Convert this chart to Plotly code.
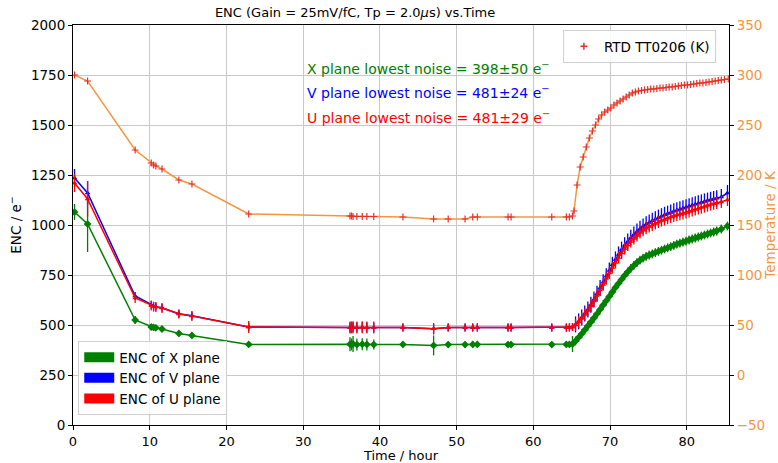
import plotly.graph_objects as go

# ENC measurement times (hours)
t_enc = [0.2, 1.9, 8.1, 10.2, 10.5, 10.8, 11.6, 13.8, 15.5, 22.9,
         36.1, 36.3, 36.5, 37.0, 37.7, 38.3, 39.2,
         43.0, 47.0, 48.9, 51.1, 52.1, 52.7, 56.7, 57.1, 62.4, 64.3, 64.7, 65.1,
         65.5, 65.9, 66.3, 66.7, 67.1, 67.5, 67.9, 68.3, 68.7, 69.1, 69.5, 69.9,
         70.3, 70.7, 71.1, 71.5, 71.9, 72.3, 72.7, 73.1, 73.5, 73.9, 74.3, 74.7,
         75.1, 75.5, 75.9, 76.3, 76.7, 77.1, 77.5, 77.9, 78.3, 78.7, 79.1, 79.5,
         79.9, 80.3, 80.7, 81.1, 81.5, 81.9, 82.3, 82.7, 83.1, 83.5, 83.9, 84.5, 85.3]

enc_x = [1065, 1005, 525, 490, 488, 486, 480, 458, 448, 403,
         404, 403, 405, 402, 404, 403, 402,
         403, 398, 402, 402, 403, 403, 402, 402, 402, 403, 403, 405,
         420, 438, 456, 475, 495, 515, 535, 556, 578, 600, 621, 643,
         665, 688, 708, 728, 748, 766, 783, 798, 812, 824, 834, 843,
         850, 856, 862, 868, 874, 880, 886, 892, 898, 904, 909, 914,
         919, 925, 930, 935, 940, 945, 950, 955, 960, 965, 970, 980, 995]
err_x = [40, 140, 20, 15, 15, 15, 15, 15, 15, 12,
         35, 30, 40, 30, 30, 30, 25,
         15, 50, 15, 15, 15, 15, 15, 15, 15, 15, 15, 40] + [22] * 49

enc_v = [1235, 1160, 645, 600, 594, 591, 586, 556, 546, 490,
         488, 488, 489, 488, 489, 488, 488,
         488, 481, 487, 487, 488, 488, 487, 487, 487, 488, 488, 490,
         503, 518, 537, 557, 578, 601, 627, 656, 685, 714, 744, 773,
         801, 828, 853, 877, 899, 918, 936, 952, 967, 981, 993, 1004,
         1013, 1021, 1029, 1037, 1044, 1051, 1057, 1063, 1069, 1074, 1079, 1084,
         1089, 1094, 1099, 1104, 1109, 1113, 1118, 1122, 1126, 1130, 1134, 1140, 1160]
err_v = [45, 60, 20, 20, 20, 20, 20, 20, 20, 20,
         25, 25, 25, 25, 25, 25, 25,
         20, 24, 20, 20, 20, 20, 20, 20, 20, 20, 20, 20] + [40] * 49

enc_u = [1210, 1130, 635, 598, 592, 590, 585, 555, 545, 490,
         488, 488, 489, 488, 489, 488, 488,
         488, 481, 487, 487, 488, 488, 487, 487, 487, 488, 488, 490,
         500, 515, 533, 552, 572, 595, 620, 648, 675, 703, 732, 760,
         787, 812, 837, 860, 882, 900, 918, 933, 948, 962, 974, 984,
         993, 1000, 1008, 1015, 1022, 1028, 1034, 1040, 1045, 1050, 1054, 1058,
         1062, 1067, 1072, 1077, 1082, 1087, 1092, 1097, 1102, 1106, 1110, 1115, 1125]
err_u = [45, 90, 25, 25, 25, 25, 25, 22, 25, 30,
         30, 30, 30, 30, 30, 30, 30,
         20, 29, 20, 20, 20, 20, 20, 20, 20, 20, 20, 20] + [30] * 49

# RTD temperature (K)
t_temp = [0.2, 1.9, 8.1, 10.2, 10.5, 10.8, 11.6, 13.8, 15.5, 22.9,
          36.1, 36.3, 36.5, 37.0, 37.7, 38.3, 39.2,
          43.0, 47.0, 48.9, 51.1, 52.1, 52.7, 56.7, 57.1, 62.4, 64.3, 64.7, 65.1,
          65.3, 65.7, 66.1, 66.5, 66.9, 67.3, 67.7, 68.1, 68.5, 68.9, 69.3, 69.7,
          70.1, 70.5, 70.9, 71.3, 71.7, 72.1, 72.5, 72.9, 73.3, 73.7, 74.1, 74.5,
          74.9, 75.3, 75.7, 76.1, 76.5, 76.9, 77.3, 77.7, 78.1, 78.5, 78.9, 79.3,
          79.7, 80.1, 80.5, 80.9, 81.3, 81.7, 82.1, 82.5, 82.9, 83.3, 83.7, 84.1,
          84.5, 84.9, 85.4]
temp_k = [300, 294, 225, 212, 210, 209, 206, 195, 191, 161,
          159, 159, 158.5, 158.5, 158.5, 158.5, 158.5,
          158, 156, 156, 156, 158, 158, 158, 158, 158, 158, 158, 159,
          164, 190, 208, 218, 228, 237, 244, 250, 256, 260, 263, 265,
          267, 270, 272, 274, 276, 278, 280, 282, 283, 284, 284.5, 285,
          285.5, 286, 286, 286.5, 287, 287, 287.5, 288, 288, 288.5, 289, 289.5,
          290, 290, 290.5, 291, 291.5, 292, 292, 292.5, 293, 293.5, 294, 294.5,
          295, 295.5, 296]

notes = ["X plane lowest noise = 398\u00b150 e<sup>\u2212</sup>",
         "V plane lowest noise = 481\u00b124 e<sup>\u2212</sup>",
         "U plane lowest noise = 481\u00b129 e<sup>\u2212</sup>"]
note_y = [1785, 1665, 1540]

GREEN, BLUE, RED, ORANGE = "#008000", "#0000ff", "#ff0000", "#f7953f"
RTD_RED = "#e8302a"
FONT = "DejaVu Sans"

fig = go.Figure()

series = [("X", enc_x, err_x, GREEN, "diamond", 6),
          ("V", enc_v, err_v, BLUE, "triangle-up", 5),
          ("U", enc_u, err_u, RED, "triangle-up", 5)]
for name, vals, errs, col, sym, sz in series:
    fig.add_trace(go.Scatter(
        x=t_enc, y=vals, mode="lines+markers", showlegend=False,
        line=dict(color=col, width=1.5),
        marker=dict(color=col, symbol=sym, size=sz),
        error_y=dict(type="data", array=errs, color=col, thickness=1.3, width=0)))

# legend patches for the ENC series
for name, vals, errs, col, sym, sz in series:
    fig.add_trace(go.Scatter(
        x=[None], y=[None], mode="lines", name=f"ENC of {name} plane",
        line=dict(color=col, width=12), legend="legend"))

fig.add_trace(go.Scatter(
    x=t_temp, y=temp_k, yaxis="y2", mode="lines+markers", showlegend=False,
    line=dict(color=ORANGE, width=1.5),
    marker=dict(symbol="cross-thin", size=5, line=dict(color=RTD_RED, width=1.2))))
fig.add_trace(go.Scatter(
    x=[None], y=[None], yaxis="y2", mode="markers", name="RTD TT0206 (K)",
    marker=dict(symbol="cross-thin", size=5, line=dict(color=RTD_RED, width=1.5)),
    legend="legend2"))

for txt, yv, col in zip(notes, note_y, [GREEN, BLUE, RED]):
    fig.add_annotation(x=30.2, y=yv, xref="x", yref="y", text=txt, showarrow=False,
                       xanchor="left", yanchor="middle",
                       font=dict(family=FONT, size=14, color=col))

axis_common = dict(showline=True, linecolor="black", linewidth=1, ticks="outside",
                   ticklen=4, tickcolor="black", automargin=False,
                   tickfont=dict(family=FONT, size=13.5, color="black"))

fig.update_layout(
    width=778, height=463,
    margin=dict(l=73, r=49, t=25, b=38),
    paper_bgcolor="white", plot_bgcolor="white",
    font=dict(family=FONT, size=13, color="black"),
    title=dict(text="ENC (Gain = 25mV/fC, Tp = 2.0<i>\u03bc</i>s) vs.Time",
               x=0.43, xref="paper", xanchor="center", y=0.974, yanchor="middle",
               font=dict(family=FONT, size=13, color="black")),
    xaxis=dict(range=[0, 85.5], dtick=10, mirror=True, showgrid=True, gridcolor="#c8c8c8",
               title=dict(text="Time / hour", standoff=3, font=dict(size=13)),
               zeroline=False, **axis_common),
    yaxis=dict(range=[0, 2000], dtick=250, showgrid=True, gridcolor="#c8c8c8",
               title=dict(text="ENC / e<sup>\u2212</sup>", standoff=6, font=dict(size=13.5)),
               zeroline=False, **axis_common),
    yaxis2=dict(range=[-50, 350], dtick=50, overlaying="y", side="right", showgrid=False,
                zeroline=False, showline=True, linecolor="black", ticks="outside", ticklen=4,
                tickcolor="black", automargin=False,
                tickfont=dict(family=FONT, size=13.5, color=ORANGE),
                title=dict(text="Temperature / K", standoff=2,
                           font=dict(family=FONT, size=13.5, color=ORANGE))),
    legend=dict(x=0.008, y=0.025, xanchor="left", yanchor="bottom",
                bgcolor="rgba(255,255,255,0.85)", bordercolor="#d0d0d0", borderwidth=1,
                font=dict(family=FONT, size=13.5), tracegroupgap=0),
    legend2=dict(x=0.98, y=0.9875, xanchor="right", yanchor="top",
                 bgcolor="rgba(255,255,255,0.85)", bordercolor="#d0d0d0", borderwidth=1,
                 font=dict(family=FONT, size=13.5)),
)
fig.update_xaxes(tickfont=dict(size=13))

# drop the default page margin so the figure sits at the window's corner
fig.write_html("out.html", config={"displayModeBar": False},
               post_script="document.body.style.margin='0';")
